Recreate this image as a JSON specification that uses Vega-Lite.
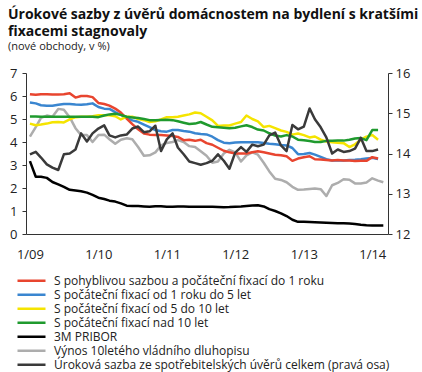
{
  "$schema": "https://vega.github.io/schema/vega-lite/v6.json",
  "autosize": {"type": "none"},
  "width": 362,
  "height": 161,
  "padding": {"left": 26, "top": 73, "right": 34, "bottom": 138},
  "background": "white",
  "title": {
    "text": ["Úrokové sazby z úvěrů domácnostem na bydlení s kratšími", "fixacemi stagnovaly"],
    "subtitle": "(nové obchody, v %)",
    "anchor": "start",
    "frame": "group",
    "dx": -18,
    "offset": 15,
    "font": "Open Sans",
    "fontSize": 14,
    "fontWeight": "bold",
    "lineHeight": 17,
    "color": "#111111",
    "subtitleFont": "Open Sans",
    "subtitleFontSize": 11,
    "subtitleColor": "#222222",
    "subtitlePadding": 2
  },
  "data": {
    "values": [
      {"d":"2009-01-01","r":6.08,"b":5.72,"y":4.8,"g":5.11,"p":3.17,"v":4.23,"u":13.98},
      {"d":"2009-02-01","r":6.05,"b":5.68,"y":4.73,"g":5.11,"p":2.49,"v":4.65,"u":14.04},
      {"d":"2009-03-01","r":6.08,"b":5.6,"y":4.76,"g":5.1,"p":2.49,"v":5.05,"u":13.9},
      {"d":"2009-04-01","r":6.08,"b":5.58,"y":4.8,"g":5.1,"p":2.44,"v":5.15,"u":13.73},
      {"d":"2009-05-01","r":6.07,"b":5.58,"y":4.86,"g":5.1,"p":2.26,"v":5.1,"u":13.65},
      {"d":"2009-06-01","r":6.07,"b":5.62,"y":4.87,"g":5.1,"p":2.16,"v":5.44,"u":13.59},
      {"d":"2009-07-01","r":6.08,"b":5.65,"y":4.85,"g":5.1,"p":2.05,"v":5.4,"u":13.98},
      {"d":"2009-08-01","r":6.12,"b":5.65,"y":4.98,"g":5.1,"p":1.92,"v":5.08,"u":14.0},
      {"d":"2009-09-01","r":5.93,"b":5.63,"y":5.08,"g":5.1,"p":1.89,"v":4.6,"u":14.1},
      {"d":"2009-10-01","r":6.0,"b":5.62,"y":5.1,"g":5.1,"p":1.86,"v":4.3,"u":14.5},
      {"d":"2009-11-01","r":6.0,"b":5.64,"y":5.1,"g":5.1,"p":1.8,"v":4.3,"u":14.3},
      {"d":"2009-12-01","r":5.95,"b":5.68,"y":5.12,"g":5.1,"p":1.7,"v":4.0,"u":14.5},
      {"d":"2010-01-01","r":5.7,"b":5.52,"y":5.16,"g":5.08,"p":1.58,"v":4.3,"u":14.62},
      {"d":"2010-02-01","r":5.65,"b":5.45,"y":5.16,"g":5.15,"p":1.52,"v":4.32,"u":14.7},
      {"d":"2010-03-01","r":5.58,"b":5.44,"y":5.16,"g":5.2,"p":1.45,"v":4.12,"u":14.45},
      {"d":"2010-04-01","r":5.45,"b":5.3,"y":5.12,"g":5.23,"p":1.41,"v":3.92,"u":14.4},
      {"d":"2010-05-01","r":5.28,"b":5.18,"y":4.98,"g":5.18,"p":1.33,"v":4.1,"u":14.45},
      {"d":"2010-06-01","r":5.02,"b":5.05,"y":5.1,"g":5.1,"p":1.23,"v":4.16,"u":14.47},
      {"d":"2010-07-01","r":4.78,"b":4.94,"y":5.1,"g":5.07,"p":1.22,"v":4.12,"u":14.62},
      {"d":"2010-08-01","r":4.55,"b":4.88,"y":5.0,"g":5.04,"p":1.22,"v":3.78,"u":14.67},
      {"d":"2010-09-01","r":4.37,"b":4.76,"y":4.95,"g":5.0,"p":1.2,"v":3.4,"u":14.53},
      {"d":"2010-10-01","r":4.32,"b":4.65,"y":4.87,"g":4.95,"p":1.18,"v":3.42,"u":14.55},
      {"d":"2010-11-01","r":4.3,"b":4.52,"y":4.9,"g":4.95,"p":1.21,"v":3.55,"u":14.69},
      {"d":"2010-12-01","r":4.3,"b":4.47,"y":4.98,"g":4.96,"p":1.21,"v":3.85,"u":14.06},
      {"d":"2011-01-01","r":4.28,"b":4.45,"y":5.08,"g":4.97,"p":1.19,"v":3.96,"u":14.35},
      {"d":"2011-02-01","r":4.26,"b":4.52,"y":5.08,"g":4.95,"p":1.19,"v":4.0,"u":14.5},
      {"d":"2011-03-01","r":4.22,"b":4.52,"y":5.1,"g":4.9,"p":1.2,"v":4.08,"u":14.15},
      {"d":"2011-04-01","r":4.08,"b":4.48,"y":5.15,"g":4.84,"p":1.2,"v":4.0,"u":13.98},
      {"d":"2011-05-01","r":4.1,"b":4.45,"y":5.2,"g":4.78,"p":1.19,"v":3.82,"u":13.8},
      {"d":"2011-06-01","r":4.05,"b":4.38,"y":5.28,"g":4.8,"p":1.18,"v":3.78,"u":13.76},
      {"d":"2011-07-01","r":4.1,"b":4.35,"y":5.25,"g":4.87,"p":1.18,"v":3.6,"u":13.72},
      {"d":"2011-08-01","r":3.95,"b":4.33,"y":5.1,"g":4.76,"p":1.18,"v":3.4,"u":13.76},
      {"d":"2011-09-01","r":3.88,"b":4.23,"y":4.94,"g":4.66,"p":1.18,"v":3.1,"u":13.82},
      {"d":"2011-10-01","r":3.75,"b":4.08,"y":4.7,"g":4.64,"p":1.17,"v":3.15,"u":13.98},
      {"d":"2011-11-01","r":3.62,"b":3.97,"y":4.72,"g":4.62,"p":1.16,"v":3.5,"u":13.82},
      {"d":"2011-12-01","r":3.55,"b":3.95,"y":4.72,"g":4.6,"p":1.17,"v":3.66,"u":13.62},
      {"d":"2012-01-01","r":3.5,"b":3.98,"y":4.8,"g":4.62,"p":1.19,"v":3.55,"u":14.02},
      {"d":"2012-02-01","r":3.5,"b":3.99,"y":4.87,"g":4.68,"p":1.2,"v":3.15,"u":14.16},
      {"d":"2012-03-01","r":3.5,"b":3.99,"y":5.15,"g":4.73,"p":1.22,"v":3.42,"u":14.04},
      {"d":"2012-04-01","r":3.55,"b":3.99,"y":5.0,"g":4.65,"p":1.24,"v":3.55,"u":14.22},
      {"d":"2012-05-01","r":3.6,"b":3.99,"y":4.9,"g":4.54,"p":1.25,"v":3.45,"u":14.18},
      {"d":"2012-06-01","r":3.55,"b":3.96,"y":4.65,"g":4.5,"p":1.2,"v":3.1,"u":14.22},
      {"d":"2012-07-01","r":3.5,"b":3.92,"y":4.7,"g":4.38,"p":1.08,"v":2.72,"u":14.45},
      {"d":"2012-08-01","r":3.45,"b":3.9,"y":4.6,"g":4.28,"p":1.0,"v":2.4,"u":14.52},
      {"d":"2012-09-01","r":3.42,"b":3.87,"y":4.5,"g":4.24,"p":0.9,"v":2.35,"u":14.2},
      {"d":"2012-10-01","r":3.38,"b":3.85,"y":4.44,"g":4.3,"p":0.78,"v":2.25,"u":14.06},
      {"d":"2012-11-01","r":3.18,"b":3.74,"y":4.32,"g":4.24,"p":0.62,"v":2.05,"u":14.71},
      {"d":"2012-12-01","r":3.28,"b":3.47,"y":4.37,"g":4.1,"p":0.53,"v":1.92,"u":14.6},
      {"d":"2013-01-01","r":3.34,"b":3.48,"y":4.3,"g":4.08,"p":0.53,"v":1.93,"u":14.67},
      {"d":"2013-02-01","r":3.38,"b":3.52,"y":4.2,"g":4.04,"p":0.52,"v":1.96,"u":15.12},
      {"d":"2013-03-01","r":3.25,"b":3.45,"y":4.24,"g":4.0,"p":0.51,"v":1.98,"u":14.85},
      {"d":"2013-04-01","r":3.24,"b":3.35,"y":4.1,"g":4.0,"p":0.5,"v":1.95,"u":14.65},
      {"d":"2013-05-01","r":3.22,"b":3.25,"y":4.02,"g":4.05,"p":0.49,"v":1.65,"u":14.4},
      {"d":"2013-06-01","r":3.2,"b":3.2,"y":3.99,"g":4.05,"p":0.48,"v":2.12,"u":14.0},
      {"d":"2013-07-01","r":3.22,"b":3.2,"y":3.97,"g":4.06,"p":0.47,"v":2.22,"u":14.1},
      {"d":"2013-08-01","r":3.2,"b":3.2,"y":3.95,"g":4.06,"p":0.47,"v":2.38,"u":14.04},
      {"d":"2013-09-01","r":3.2,"b":3.22,"y":3.78,"g":4.1,"p":0.46,"v":2.36,"u":14.06},
      {"d":"2013-10-01","r":3.17,"b":3.23,"y":3.9,"g":4.15,"p":0.43,"v":2.2,"u":14.12},
      {"d":"2013-11-01","r":3.18,"b":3.25,"y":4.1,"g":4.17,"p":0.4,"v":2.2,"u":14.39},
      {"d":"2013-12-01","r":3.18,"b":3.28,"y":4.23,"g":4.08,"p":0.38,"v":2.24,"u":14.06},
      {"d":"2014-01-01","r":3.34,"b":3.31,"y":4.3,"g":4.52,"p":0.37,"v":2.42,"u":14.06},
      {"d":"2014-02-01","r":3.28,"b":3.26,"y":4.1,"g":4.52,"p":0.37,"v":2.32,"u":14.1},
      {"d":"2014-03-01","p":0.37,"v":2.25}
    ]
  },
  "transform": [
    {"fold": ["v", "u", "p", "b", "r", "y", "g"], "as": ["s", "val"]}
  ],
  "encoding": {
    "x": {
      "field": "d",
      "type": "temporal",
      "scale": {
        "type": "utc",
        "domain": [
          {"year": 2008, "month": 12, "date": 11, "utc": true},
          {"year": 2014, "month": 3, "date": 26, "utc": true}
        ]
      },
      "axis": {
        "title": null,
        "labelExpr": "utcFormat(datum.value, '%-m/%y')",
        "values": [
          {"year": 2009, "month": 1, "date": 1, "utc": true},
          {"year": 2010, "month": 1, "date": 1, "utc": true},
          {"year": 2011, "month": 1, "date": 1, "utc": true},
          {"year": 2012, "month": 1, "date": 1, "utc": true},
          {"year": 2013, "month": 1, "date": 1, "utc": true},
          {"year": 2014, "month": 1, "date": 1, "utc": true}
        ],
        "ticks": false,
        "grid": false,
        "labelPadding": 14,
        "domainColor": "#333333",
        "labelAngle": 0
      }
    },
    "color": {
      "field": "s",
      "type": "nominal",
      "sort": ["r", "b", "y", "g", "p", "v", "u"],
      "scale": {
        "domain": ["r", "b", "y", "g", "p", "v", "u"],
        "range": ["#e8452f", "#3a86d0", "#f5e400", "#1f9a2e", "#000000", "#adadad", "#3a3a3a"]
      },
      "legend": {
        "labelExpr": "{'r':'S pohyblivou sazbou a počáteční fixací do 1 roku','b':'S počáteční fixací od 1 roku do 5 let','y':'S počáteční fixací od 5 do 10 let','g':'S počáteční fixací nad 10 let','p':'3M PRIBOR','v':'Výnos 10letého vládního dluhopisu','u':'Úroková sazba ze spotřebitelských úvěrů celkem (pravá osa)'}[datum.value]"
      }
    },
    "strokeWidth": {
      "field": "s",
      "type": "nominal",
      "sort": ["r", "b", "y", "g", "p", "v", "u"],
      "scale": {
        "domain": ["r", "b", "y", "g", "p", "v", "u"],
        "range": [2.5, 2.5, 2.5, 2.5, 3, 2.2, 1.0]
      },
      "legend": {
        "labelExpr": "{'r':'S pohyblivou sazbou a počáteční fixací do 1 roku','b':'S počáteční fixací od 1 roku do 5 let','y':'S počáteční fixací od 5 do 10 let','g':'S počáteční fixací nad 10 let','p':'3M PRIBOR','v':'Výnos 10letého vládního dluhopisu','u':'Úroková sazba ze spotřebitelských úvěrů celkem (pravá osa)'}[datum.value]"
      }
    }
  },
  "layer": [
    {
      "transform": [{"filter": "datum.s !== 'u'"}],
      "mark": {"type": "line", "strokeJoin": "round"},
      "encoding": {
        "y": {
          "field": "val",
          "type": "quantitative",
          "scale": {"domain": [0, 7], "nice": false, "zero": false},
          "axis": {
            "title": null,
            "orient": "left",
            "values": [0, 1, 2, 3, 4, 5, 6, 7],
            "grid": false,
            "tickSize": 4,
            "labelPadding": 5,
            "domainColor": "#333333",
            "tickColor": "#333333"
          }
        }
      }
    },
    {
      "transform": [{"filter": "datum.s === 'u'"}],
      "mark": {"type": "line", "strokeJoin": "round"},
      "encoding": {
        "y": {
          "field": "val",
          "type": "quantitative",
          "scale": {"domain": [12, 16], "nice": false, "zero": false},
          "axis": {
            "title": null,
            "orient": "right",
            "values": [12, 13, 14, 15, 16],
            "grid": false,
            "tickSize": 4,
            "labelPadding": 3,
            "domainColor": "#333333",
            "tickColor": "#333333"
          }
        }
      }
    }
  ],
  "resolve": {"scale": {"y": "independent"}},
  "config": {
    "view": {"stroke": null},
    "font": "Open Sans",
    "axis": {
      "labelFont": "Open Sans",
      "labelFontSize": 13,
      "labelColor": "#222222",
      "domainWidth": 1
    },
    "legend": {
      "orient": "none",
      "legendX": -10,
      "legendY": 201,
      "title": null,
      "direction": "vertical",
      "padding": 0,
      "symbolType": "stroke",
      "symbolSize": 784,
      "clipHeight": 13.4,
      "rowPadding": 0,
      "labelOffset": 7,
      "labelFont": "Open Sans",
      "labelFontSize": 12,
      "labelColor": "#222222",
      "labelLimit": 400
    }
  }
}
